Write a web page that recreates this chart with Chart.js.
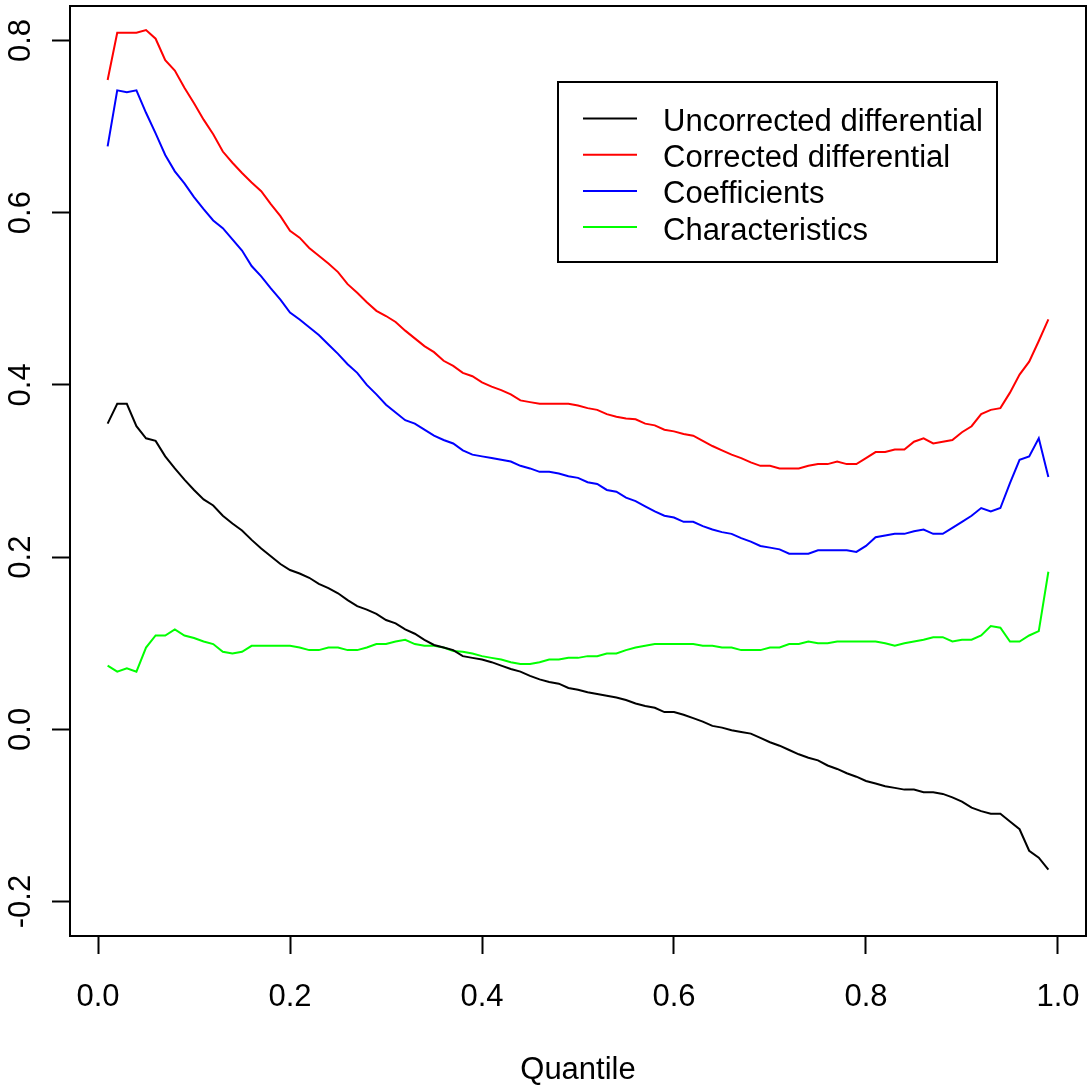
<!DOCTYPE html>
<html>
<head>
<meta charset="utf-8">
<script src="https://cdn.jsdelivr.net/npm/chart.js@4.4.1/dist/chart.umd.min.js"></script>
<style>
  html, body { margin: 0; padding: 0; background: #fff; }
  #chart { display: block; }
</style>
</head>
<body>
<canvas id="chart" width="1091" height="1086"></canvas>
<script>
const quantiles = [
  0.01, 0.02, 0.03, 0.04, 0.05, 0.06, 0.07, 0.08, 0.09, 0.10,
  0.11, 0.12, 0.13, 0.14, 0.15, 0.16, 0.17, 0.18, 0.19, 0.20,
  0.21, 0.22, 0.23, 0.24, 0.25, 0.26, 0.27, 0.28, 0.29, 0.30,
  0.31, 0.32, 0.33, 0.34, 0.35, 0.36, 0.37, 0.38, 0.39, 0.40,
  0.41, 0.42, 0.43, 0.44, 0.45, 0.46, 0.47, 0.48, 0.49, 0.50,
  0.51, 0.52, 0.53, 0.54, 0.55, 0.56, 0.57, 0.58, 0.59, 0.60,
  0.61, 0.62, 0.63, 0.64, 0.65, 0.66, 0.67, 0.68, 0.69, 0.70,
  0.71, 0.72, 0.73, 0.74, 0.75, 0.76, 0.77, 0.78, 0.79, 0.80,
  0.81, 0.82, 0.83, 0.84, 0.85, 0.86, 0.87, 0.88, 0.89, 0.90,
  0.91, 0.92, 0.93, 0.94, 0.95, 0.96, 0.97, 0.98, 0.99,
];

const uncorrected = [
  0.355, 0.378, 0.378, 0.352, 0.338, 0.335, 0.317, 0.303, 0.290, 0.278,
  0.267, 0.260, 0.248, 0.239, 0.231, 0.220, 0.210, 0.201, 0.192, 0.185,
  0.181, 0.176, 0.169, 0.164, 0.158, 0.150, 0.143, 0.139, 0.134, 0.127,
  0.123, 0.116, 0.111, 0.104, 0.098, 0.095, 0.092, 0.085, 0.083, 0.081,
  0.078, 0.074, 0.070, 0.067, 0.062, 0.058, 0.055, 0.053, 0.048, 0.046,
  0.043, 0.041, 0.039, 0.037, 0.034, 0.030, 0.027, 0.025, 0.020, 0.020,
  0.017, 0.013, 0.009, 0.004, 0.002, -0.001, -0.003, -0.005, -0.010, -0.015,
  -0.019, -0.024, -0.029, -0.033, -0.036, -0.042, -0.046, -0.051, -0.055, -0.060,
  -0.063, -0.066, -0.068, -0.070, -0.070, -0.073, -0.073, -0.075, -0.079, -0.084,
  -0.091, -0.095, -0.098, -0.098, -0.107, -0.116, -0.141, -0.149, -0.163,
];

const corrected = [
  0.754, 0.809, 0.809, 0.809, 0.812, 0.802, 0.777, 0.765, 0.745, 0.727,
  0.708, 0.691, 0.671, 0.658, 0.646, 0.635, 0.625, 0.610, 0.596, 0.579,
  0.571, 0.559, 0.550, 0.541, 0.531, 0.517, 0.507, 0.496, 0.486, 0.480,
  0.473, 0.463, 0.454, 0.445, 0.438, 0.428, 0.422, 0.414, 0.410, 0.403,
  0.398, 0.394, 0.389, 0.382, 0.380, 0.378, 0.378, 0.378, 0.378, 0.376,
  0.373, 0.371, 0.366, 0.363, 0.361, 0.360, 0.355, 0.353, 0.348, 0.346,
  0.343, 0.341, 0.335, 0.329, 0.324, 0.319, 0.315, 0.310, 0.306, 0.306,
  0.303, 0.303, 0.303, 0.306, 0.308, 0.308, 0.311, 0.308, 0.308, 0.315,
  0.322, 0.322, 0.325, 0.325, 0.334, 0.338, 0.332, 0.334, 0.336, 0.345,
  0.352, 0.366, 0.371, 0.373, 0.391, 0.412, 0.427, 0.451, 0.476,
];

const coefficients = [
  0.677, 0.742, 0.740, 0.742, 0.716, 0.692, 0.667, 0.648, 0.634, 0.618,
  0.604, 0.591, 0.582, 0.569, 0.556, 0.538, 0.526, 0.512, 0.499, 0.484,
  0.476, 0.467, 0.458, 0.447, 0.436, 0.424, 0.414, 0.400, 0.389, 0.377,
  0.368, 0.359, 0.355, 0.348, 0.341, 0.336, 0.332, 0.324, 0.319, 0.317,
  0.315, 0.313, 0.311, 0.306, 0.303, 0.299, 0.299, 0.297, 0.294, 0.292,
  0.287, 0.285, 0.278, 0.276, 0.269, 0.265, 0.259, 0.253, 0.248, 0.246,
  0.241, 0.241, 0.236, 0.232, 0.229, 0.227, 0.222, 0.218, 0.213, 0.211,
  0.209, 0.204, 0.204, 0.204, 0.208, 0.208, 0.208, 0.208, 0.206, 0.213,
  0.223, 0.225, 0.227, 0.227, 0.230, 0.232, 0.227, 0.227, 0.234, 0.241,
  0.248, 0.257, 0.253, 0.257, 0.286, 0.313, 0.317, 0.338, 0.293,
];

const characteristics = [
  0.074, 0.067, 0.071, 0.067, 0.095, 0.109, 0.109, 0.116, 0.109, 0.106,
  0.102, 0.099, 0.090, 0.088, 0.090, 0.097, 0.097, 0.097, 0.097, 0.097,
  0.095, 0.092, 0.092, 0.095, 0.095, 0.092, 0.092, 0.095, 0.099, 0.099,
  0.102, 0.104, 0.099, 0.097, 0.097, 0.095, 0.091, 0.090, 0.088, 0.085,
  0.083, 0.081, 0.078, 0.076, 0.076, 0.078, 0.081, 0.081, 0.083, 0.083,
  0.085, 0.085, 0.088, 0.088, 0.092, 0.095, 0.097, 0.099, 0.099, 0.099,
  0.099, 0.099, 0.097, 0.097, 0.095, 0.095, 0.092, 0.092, 0.092, 0.095,
  0.095, 0.099, 0.099, 0.102, 0.100, 0.100, 0.102, 0.102, 0.102, 0.102,
  0.102, 0.100, 0.097, 0.100, 0.102, 0.104, 0.107, 0.107, 0.102, 0.104,
  0.104, 0.109, 0.120, 0.118, 0.102, 0.102, 0.109, 0.114, 0.183,
];

const seriesLabels = ["Uncorrected differential", "Corrected differential", "Coefficients", "Characteristics"];
const seriesColors = ["#000000", "#ff0000", "#0000ff", "#00ff00"];
const xTicks = [0.0, 0.2, 0.4, 0.6, 0.8, 1.0];
const yTicks = [-0.2, 0.0, 0.2, 0.4, 0.6, 0.8];

const FONT = "Arial, 'Liberation Sans', sans-serif";
const FONT_SIZE = 31;

function toPoints(values) {
  return quantiles.map((q, i) => ({ x: q, y: values[i] }));
}

// box around the plot, rotated y labels (R style) and the boxed legend
const rPlotExtras = {
  id: "rPlotExtras",
  afterDraw(chart) {
    const { ctx, chartArea, scales } = chart;
    ctx.save();
    ctx.strokeStyle = "#000";
    ctx.lineWidth = 2;
    ctx.strokeRect(chartArea.left, chartArea.top, chartArea.right - chartArea.left, chartArea.bottom - chartArea.top);

    ctx.fillStyle = "#000";
    ctx.font = `${FONT_SIZE}px ${FONT}`;
    ctx.textAlign = "center";
    ctx.textBaseline = "middle";
    for (const v of yTicks) {
      const y = scales.y.getPixelForValue(v);
      ctx.save();
      ctx.translate(21, y);
      ctx.rotate(-Math.PI / 2);
      ctx.fillText(v.toFixed(1), 0, 0);
      ctx.restore();
    }

    const box = { left: 558, top: 82, right: 997, bottom: 262 };
    ctx.strokeRect(box.left, box.top, box.right - box.left, box.bottom - box.top);
    ctx.textAlign = "left";
    chart.data.datasets.forEach((ds, i) => {
      const rowY = 118.5 + i * 36.2;
      ctx.strokeStyle = ds.borderColor;
      ctx.beginPath();
      ctx.moveTo(583, rowY);
      ctx.lineTo(637, rowY);
      ctx.stroke();
      ctx.fillStyle = "#000";
      ctx.fillText(ds.label, 663, rowY + 4);
    });
    ctx.restore();
  },
};

new Chart(document.getElementById("chart"), {
  type: "line",
  data: {
    datasets: [uncorrected, corrected, coefficients, characteristics].map((values, i) => ({
      label: seriesLabels[i],
      data: toPoints(values),
      borderColor: seriesColors[i],
      backgroundColor: seriesColors[i],
      borderWidth: 2,
      pointRadius: 0,
      tension: 0,
      fill: false,
    })),
  },
  options: {
    responsive: false,
    animation: false,
    devicePixelRatio: 1,
    layout: { padding: { top: 6, right: 5, left: 0, bottom: 0 } },
    plugins: {
      legend: { display: false },
      tooltip: { enabled: false },
    },
    scales: {
      x: {
        type: "linear",
        min: -0.0292,
        max: 1.0292,
        afterBuildTicks: (scale) => { scale.ticks = xTicks.map((v) => ({ value: v })); },
        afterFit: (scale) => {
          scale.height = 150;
          scale.paddingLeft = 0;
          scale.paddingRight = 0;
        },
        border: { display: false },
        grid: { drawOnChartArea: false, drawTicks: true, tickLength: 18, tickWidth: 2, tickColor: "#000" },
        ticks: {
          color: "#000",
          padding: 25,
          maxRotation: 0,
          font: { family: FONT, size: FONT_SIZE },
          callback: (v) => Number(v).toFixed(1),
        },
        title: {
          display: true,
          text: "Quantile",
          color: "#000",
          padding: 0,
          font: { family: FONT, size: FONT_SIZE, lineHeight: 1.0 },
        },
      },
      y: {
        type: "linear",
        min: -0.24,
        max: 0.84,
        afterBuildTicks: (scale) => { scale.ticks = yTicks.map((v) => ({ value: v })); },
        afterFit: (scale) => {
          scale.width = 70;
          scale.paddingTop = 0;
          scale.paddingBottom = 0;
        },
        border: { display: false },
        grid: { drawOnChartArea: false, drawTicks: true, tickLength: 18, tickWidth: 2, tickColor: "#000" },
        ticks: { display: false },
      },
    },
  },
  plugins: [rPlotExtras],
});
</script>
</body>
</html>
